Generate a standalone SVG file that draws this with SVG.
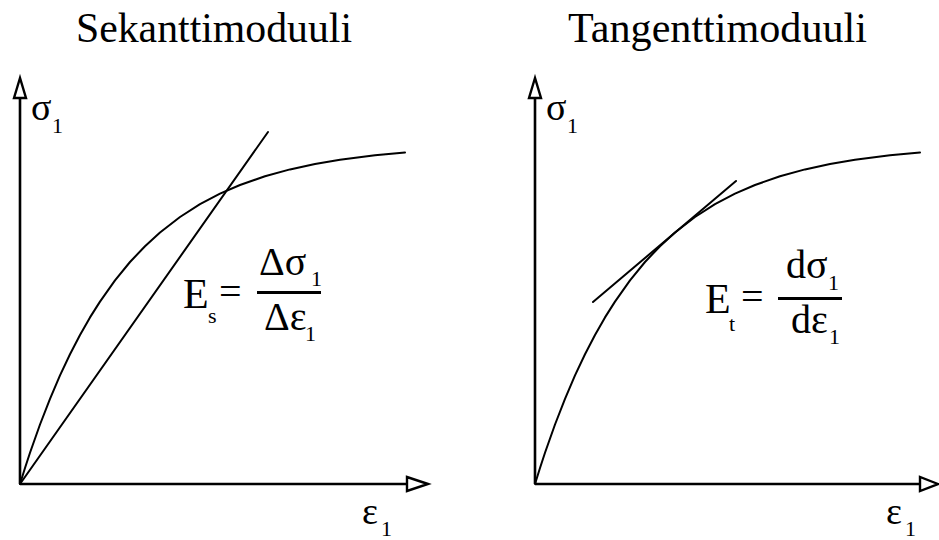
<svg xmlns="http://www.w3.org/2000/svg" width="939" height="540" viewBox="0 0 939 540">
<defs>
<style>
text{font-family:"Liberation Serif",serif;fill:#000}
.ax{stroke:#000;stroke-width:2.6;fill:none}
.ah{stroke:#000;stroke-width:2.4;fill:#fff;stroke-linejoin:miter}
.cv{stroke:#000;stroke-width:2;fill:none;stroke-linejoin:round;stroke-linecap:round}
.big{font-size:40px}
.sub{font-size:22px}
</style>
<polyline id="curve" class="cv" points="20,484 25,468 30,452.8 40,424.5 50,398.8 60,375.4 70,354.2 80,335 90,317.4 100,301.6 115,280.4 130,262 145,246.2 160,232.5 180,217 200,204.2 220,193.7 240,185 265,176.2 290,169.4 315,163.9 340,159.7 375,155.2 405,152.4"/>
</defs>
<rect width="939" height="540" fill="#fff"/>
<g id="title-left"><text x="76" y="42" font-size="42" textLength="276" lengthAdjust="spacingAndGlyphs">Sekanttimoduuli</text></g>
<g id="title-right"><text x="568" y="42" font-size="42" textLength="299" lengthAdjust="spacingAndGlyphs">Tangenttimoduuli</text></g>

<g id="connectors">
<g id="left-axes">
<line class="ax" x1="20" y1="484" x2="20" y2="98"/>
<line class="ax" x1="20" y1="484" x2="407" y2="484"/>
<polygon class="ah" points="20,78 14,98 26,98"/>
<polygon class="ah" points="428,484 407,477 407,491"/>
</g>
<g id="right-axes">
<line class="ax" x1="535" y1="484" x2="535" y2="98"/>
<line class="ax" x1="535" y1="484" x2="920" y2="484"/>
<polygon class="ah" points="535,78 529,98 541,98"/>
<polygon class="ah" points="938,484 920,477 920,491"/>
</g>
</g>

<g id="left-plot">
<use href="#curve"/>
<line class="cv" x1="20" y1="484" x2="268" y2="132"/>
</g>
<g id="right-plot">
<use href="#curve" transform="translate(515,0)"/>
<line class="cv" x1="593" y1="302" x2="736" y2="181"/>
</g>

<g id="left-labels">
<text x="31" y="120" font-size="38">σ</text>
<text class="sub" x="52" y="133">1</text>
<text x="362" y="524" font-size="38">ε</text>
<text class="sub" x="381" y="536">1</text>
</g>
<g id="right-labels">
<text x="546" y="120" font-size="38">σ</text>
<text class="sub" x="567" y="133">1</text>
<text x="886" y="524" font-size="38">ε</text>
<text class="sub" x="905" y="536">1</text>
</g>

<g id="formula-secant">
<text x="183" y="308" font-size="42">E</text>
<text class="sub" x="208" y="323">s</text>
<text class="big" x="219" y="305">=</text>
<rect x="257" y="291" width="64" height="3" fill="#000"/>
<text class="big" x="259" y="275">Δσ</text>
<text class="sub" x="311" y="286">1</text>
<text class="big" x="264" y="330">Δε</text>
<text class="sub" x="305" y="341">1</text>
</g>
<g id="formula-tangent">
<text x="705" y="313" font-size="42">E</text>
<text class="sub" x="729" y="331">t</text>
<text class="big" x="741" y="310">=</text>
<rect x="778" y="297" width="64" height="3" fill="#000"/>
<text class="big" x="786" y="278">dσ</text>
<text class="sub" x="828" y="290">1</text>
<text class="big" x="791" y="333">dε</text>
<text class="sub" x="829" y="344">1</text>
</g>
</svg>
